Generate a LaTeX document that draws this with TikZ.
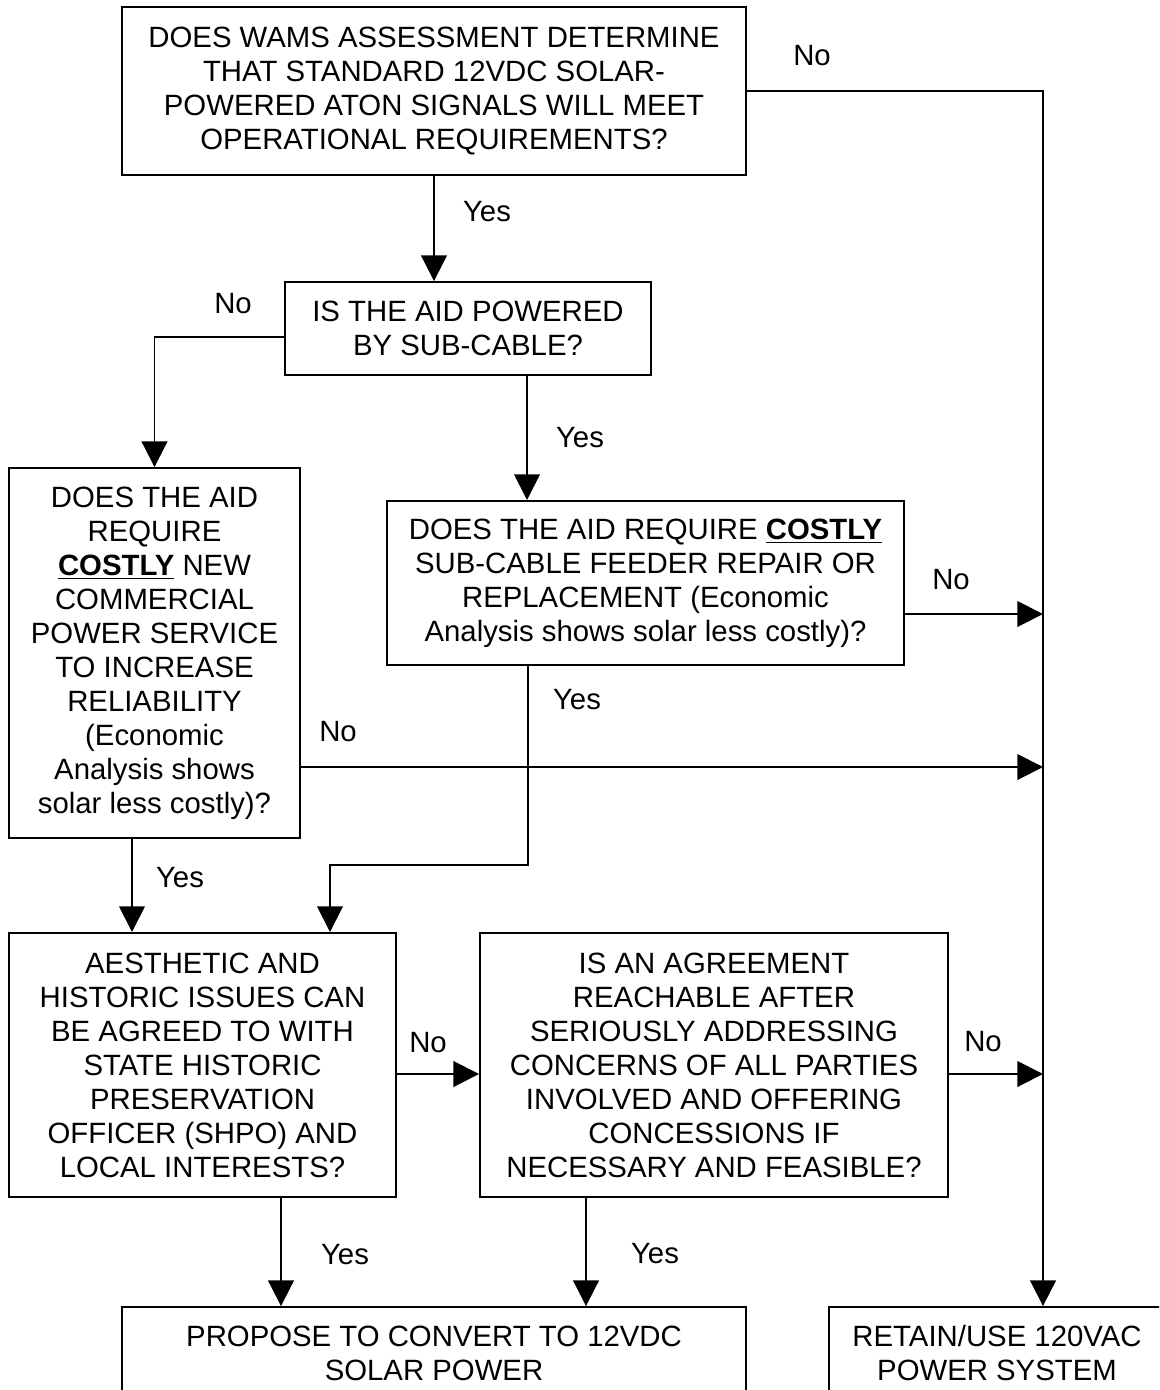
\documentclass[tikz,border=0pt]{standalone}
\usepackage{fontspec}
\setmainfont{Liberation Sans}
\usetikzlibrary{arrows.meta}

\begin{document}
\begin{tikzpicture}[x=0.409pt, y=-0.409pt, line width=0.8pt,
  font=\fontsize{12}{13.9}\selectfont,
  box/.style={draw, align=center, inner sep=0pt},
  arr/.style={-{Triangle[length=10.5pt,width=10.5pt]}},
  lbl/.style={inner sep=0pt}]

\useasboundingbox (0,0) rectangle (1159,1390);
\clip (0,0) rectangle (1159,1390);

% questions
\node[box, minimum width=255.2pt, minimum height=68.7pt] (wams) at (434,91)
  {DOES WAMS ASSESSMENT DETERMINE\\THAT STANDARD 12VDC SOLAR-\\POWERED ATON SIGNALS WILL MEET\\OPERATIONAL REQUIREMENTS?};
\node[box, minimum width=150pt, minimum height=38pt] (subcable) at (468,328.5)
  {IS THE AID POWERED\\BY SUB-CABLE?};
\node[box, minimum width=119pt, minimum height=151.3pt] (commercial) at (154.5,653)
  {DOES THE AID\\REQUIRE\\\textbf{\underline{COSTLY}} NEW\\COMMERCIAL\\POWER SERVICE\\TO INCREASE\\RELIABILITY\\(Economic\\Analysis shows\\solar less costly)?};
\node[box, minimum width=211.5pt, minimum height=67.1pt] (feeder) at (645.5,583)
  {DOES THE AID REQUIRE \textbf{\underline{COSTLY}}\\SUB-CABLE FEEDER REPAIR OR\\REPLACEMENT (Economic\\Analysis shows solar less costly)?};
\node[box, minimum width=158.3pt, minimum height=108pt] (shpo) at (202.5,1065)
  {AESTHETIC AND\\HISTORIC ISSUES CAN\\BE AGREED TO WITH\\STATE HISTORIC\\PRESERVATION\\OFFICER (SHPO) AND\\LOCAL INTERESTS?};
\node[box, minimum width=191.4pt, minimum height=108pt] (agree) at (714,1065)
  {IS AN AGREEMENT\\REACHABLE AFTER\\SERIOUSLY ADDRESSING\\CONCERNS OF ALL PARTIES\\INVOLVED AND OFFERING\\CONCESSIONS IF\\NECESSARY AND FEASIBLE?};

% outcomes
\node[box, minimum width=255.2pt, minimum height=37.6pt] (solar) at (434,1353)
  {PROPOSE TO CONVERT TO 12VDC\\SOLAR POWER};
\node[box, minimum width=137.4pt, minimum height=37.6pt] (retain) at (997,1353)
  {RETAIN/USE 120VAC\\POWER SYSTEM};

\coordinate (rail) at (1043,91);

% answers
\foreach \n/\x/\y/\t in {no1/812/56/No, yes1/487/212/Yes, no2/233/304/No,
    yes2/580/438/Yes, no3/951/580/No, yes3/577/700/Yes, no4/338/732/No,
    yes4/180/878/Yes, no5/428/1043/No, no6/983/1042/No,
    yes5/345/1255/Yes, yes6/655/1254/Yes}
  \node[lbl] (\n) at (\x,\y) {\t};

% connectors
\draw[arr] (wams.east) -- (rail) -- (rail |- retain.north);
\draw[arr] (wams.south) -- (wams.south |- subcable.north);
\draw[arr] (subcable.west |- 0,337) -| (commercial.north);
\draw[arr] (subcable.south -| 527,0) -- (feeder.north -| 527,0);
\draw[arr] (feeder.east |- 0,614) -- (rail |- 0,614);
\draw[arr] (feeder.south -| 528,0) |- (330,865) -- (shpo.north -| 330,0);
\draw[arr] (commercial.east |- 0,767) -- (rail |- 0,767);
\draw[arr] (commercial.south -| 132,0) -- (shpo.north -| 132,0);
\draw[arr] (shpo.east |- 0,1074) -- (agree.west |- 0,1074);
\draw[arr] (agree.east |- 0,1074) -- (rail |- 0,1074);
\draw[arr] (shpo.south -| 281,0) -- (solar.north -| 281,0);
\draw[arr] (agree.south -| 586,0) -- (solar.north -| 586,0);
\end{tikzpicture}
\end{document}
